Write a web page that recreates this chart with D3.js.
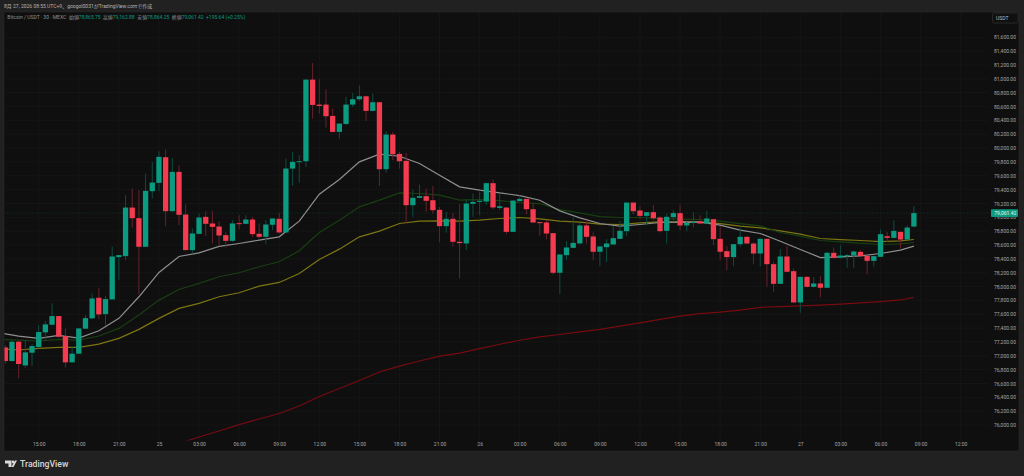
<!DOCTYPE html>
<html>
<head>
<meta charset="utf-8">
<style>
  html, body { margin: 0; padding: 0; background: #212121; overflow: hidden; }
  text { font-family: Roboto, "Noto Sans CJK JP", sans-serif; }
</style>
</head>
<body>
<div id="chart-area"></div>
<script src="https://cdn.jsdelivr.net/npm/d3@7/dist/d3.min.js"></script>
<script>
// 30 minute candles, left to right
const opens = [
  77121,76924,77203,76861,77044,77126,77338,77448,77573,77285,
  76905,77030,77391,77540,77838,77602,77814,78425,78439,79141,
  78987,78574,79377,79497,79868,79088,79656,79040,78526,78761,
  79007,78911,78867,78742,78660,78915,78906,78968,78762,78718,
  78892,78978,78781,79704,79801,79810,80989,80628,80628,80464,
  80234,80349,80628,80705,80748,80537,80662,79695,80195,79916,
  79815,79175,79281,79305,79247,79108,78872,78978,78646,78622,
  79195,79223,79228,79493,79135,79141,78790,79233,79266,79117,
  78930,78925,78771,78199,78453,78559,78622,78882,78723,78502,
  78569,78607,78689,78800,79213,79098,79021,79074,78997,78805,
  79002,79060,78882,78925,78939,78910,78973,78689,78511,78425,
  78612,78718,78621,78477,78689,78323,78039,78434,78222,77770,
  78140,77996,78044,77982,78487,78419,78443,78448,78501,78443,
  78371,78429,78727,78703,78790,78679,78866
];
const highs = [
  77155,77227,77213,77213,77169,77443,77501,77756,77573,77395,
  77131,77395,77588,77900,77982,77867,78574,78454,79319,79416,
  79392,79632,79800,79954,79983,79858,79752,79185,78838,79055,
  79088,79093,78944,78785,78959,79031,79031,79007,78911,78959,
  78983,79065,79849,79945,79897,80989,81229,80994,80849,80570,
  80354,80739,80796,80907,80758,80787,80666,80243,80234,79945,
  79930,79401,79474,79416,79450,79151,79079,79065,79190,79262,
  79344,79368,79502,79546,79344,79141,79242,79319,79266,79213,
  78930,78958,78771,78463,78655,78997,78920,78958,78781,78583,
  78684,78872,78944,79213,79213,79161,79074,79175,79021,79055,
  79103,79185,78934,79069,79031,79093,78973,78872,78583,78612,
  78853,78728,78640,78700,78689,78357,78540,78583,78261,78140,
  78150,78140,78150,78501,78564,78597,78467,78516,78525,78448,
  78448,78823,78790,78958,78790,78886,79163
];
const lows = [
  76890,76914,76674,76828,76852,77107,77227,77439,77265,76833,
  76900,77025,77391,77535,77530,77434,77814,78093,78381,78853,
  77886,78574,79271,79377,78872,79088,78886,78526,78478,78757,
  78728,78622,78593,78564,78646,78824,78901,78718,78694,78613,
  78815,78767,78776,79454,79498,79728,80426,80498,80296,80224,
  80137,80330,80594,80681,80392,80532,79454,79642,79825,79704,
  78911,79007,79281,79079,79055,78641,78776,78574,78117,78526,
  79007,79031,79175,79113,79105,78756,78785,79233,79045,78920,
  78732,78680,78174,77891,78381,78554,78612,78622,78381,78295,
  78352,78603,78689,78732,79045,78973,78886,78958,78781,78622,
  78934,78814,78800,78853,78910,78901,78598,78381,78237,78295,
  78574,78612,78323,78294,77996,77924,78039,78213,77770,77621,
  77986,77986,77842,77982,78405,78405,78270,78270,78429,78179,
  78285,78429,78645,78694,78549,78679,78864
];
const closes = [
  76924,77203,76881,77049,77140,77342,77453,77573,77275,76905,
  77030,77395,77544,77828,77597,77819,78434,78454,79141,78987,
  78574,79382,79502,79873,79088,79656,79036,78526,78766,78997,
  78906,78862,78737,78660,78911,78906,78968,78757,78718,78896,
  78983,78781,79704,79801,79810,80989,80623,80609,80460,80234,
  80354,80628,80705,80748,80537,80662,79695,80195,79911,79810,
  79175,79281,79305,79238,79103,78872,78978,78646,78627,79199,
  79223,79238,79493,79142,79160,78790,79242,79266,79117,78925,
  78920,78766,78199,78463,78564,78631,78882,78718,78502,78579,
  78622,78699,78805,79213,79088,79021,79074,78987,78800,79007,
  79060,78882,78920,78934,78910,78983,78684,78502,78425,78612,
  78718,78622,78477,78689,78323,78039,78434,78213,77770,78140,
  77996,78044,77982,78487,78415,78448,78453,78506,78439,78371,
  78439,78756,78703,78804,78679,78852,79061
];

// moving averages, read at these candle positions
const maSteps = [
  -1,2,5,8,11,14,17,20,23,26,29,32,35,38,41,44,
  47,50,53,56,59,62,65,68,71,74,77,80,83,86,89,92,
  95,98,101,104,107,110,113,116,119,122,125,128,131,134,136
];
const maWhite = [
  77333,77285,77251,77294,77256,77362,77540,77852,78203,78434,78487,78579,78622,78670,78718,78944,
  79334,79546,79801,79911,79882,79777,79608,79440,79392,79353,79314,79247,79093,78992,78910,78872,
  78896,78925,78934,78930,78886,78814,78766,78655,78535,78419,78429,78443,78477,78525,78583
];
const maGreen = [
  77237,77227,77213,77237,77227,77285,77395,77588,77804,77958,78045,78141,78199,78286,78358,78516,
  78781,78959,79151,79248,79353,79344,79320,79248,79255,79240,79210,79199,79112,79064,79011,78997,
  78997,78983,78973,78968,78944,78910,78876,78780,78727,78665,78645,78626,78607,78617,78636
];
const maOlive = [
  77100,77083,77107,77121,77121,77169,77251,77381,77540,77684,77756,77852,77910,78006,78059,78189,
  78391,78540,78718,78800,78911,78944,78949,78944,78959,78983,78997,78978,78944,78930,78901,78896,
  78920,78934,78930,78934,78910,78872,78847,78804,78756,78694,78679,78665,78650,78660,78679
];
const maRed = [
  null,null,null,null,null,null,null,null,null,75733,75827,75913,76006,76087,76166,76274,
  76411,76527,76642,76765,76851,76924,76996,77039,77104,77166,77224,77273,77307,77345,77380,77429,
  77475,77525,77573,77609,77630,77659,77700,77710,77720,77731,77746,77763,77782,77806,77843
];

// Axes
const priceTicks = d3.range(76000, 81601, 200);
const timeSteps = d3.range(5, 144, 6);
const timeLabels = [
  "15:00","18:00","21:00","25","03:00","06:00","09:00","12:00",
  "15:00","18:00","21:00","26","03:00","06:00","09:00","12:00",
  "15:00","18:00","21:00","27","03:00","06:00","09:00","12:00"
];
const lastPrice = 79061.42;

// Header and legend
const headerText = "8月 27, 2026 08:55 UTC+9、googol0031がTradingView.comで作成";
const symbolText = "Bitcoin / USDT · 30 · MEXC";
const legendLabels = ["始値", "高値", "安値", "終値"];
const legendValues = ["78,865.75", "79,162.88", "78,864.25", "79,061.42"];
const changeText = "+195.64 (+0.25%)";

const UP = "#0b9b81";
const DOWN = "#f53b50";
const UP_WICK = "#0c4d41";
const DOWN_WICK = "#66222c";

const svg = d3.select("#chart-area")
  .append("svg")
    .attr("width", 1024)
    .attr("height", 476)
    .style("display", "block");

// Panel
svg.append("rect")
  .attr("x", 4).attr("y", 12)
  .attr("width", 1015).attr("height", 439)
  .attr("fill", "#0f0f0f")
  .attr("stroke", "#2a2a2a")
  .attr("stroke-width", 0.6);

// Scales
const x = d3.scaleLinear().domain([0, 136]).range([5.3, 913.9]);
const y = d3.scaleLinear().domain([76000, 81600]).range([425, 37.3]);

svg.append("clipPath").attr("id", "plot")
  .append("rect")
    .attr("x", 4.5).attr("y", 12.5)
    .attr("width", 984).attr("height", 428);

// Grid
const grid = svg.append("g").attr("stroke", "#191919").attr("stroke-width", 0.7);
grid.selectAll(".h").data(priceTicks).enter().append("line")
  .attr("x1", 4.5).attr("x2", 988)
  .attr("y1", d => y(d)).attr("y2", d => y(d));
grid.selectAll(".v").data(timeSteps).enter().append("line")
  .attr("x1", d => x(d)).attr("x2", d => x(d))
  .attr("y1", 12.5).attr("y2", 441);

const plot = svg.append("g").attr("clip-path", "url(#plot)");

// Moving averages sit under the candles
const maLine = d3.line()
  .defined(d => d[1] !== null)
  .x(d => x(d[0]))
  .y(d => y(d[1]));

[
  [maRed, "#760b11"],
  [maOlive, "#7c7512"],
  [maGreen, "#183f11"],
  [maWhite, "#8f8f8f"]
].forEach(([values, color]) => {
  plot.append("path")
    .attr("d", maLine(values.map((v, i) => [maSteps[i], v])))
    .attr("fill", "none")
    .attr("stroke", color)
    .attr("stroke-width", 1.2);
});

// Last price line
plot.append("line")
  .attr("x1", 4.5).attr("x2", 988)
  .attr("y1", y(lastPrice)).attr("y2", y(lastPrice))
  .attr("stroke", "#0b4a3e")
  .attr("stroke-width", 0.6)
  .attr("stroke-dasharray", "1,1.5");

// Candles
const candles = plot.selectAll(".candle").data(opens).enter().append("g");

candles.append("line")
  .attr("x1", (d, i) => x(i)).attr("x2", (d, i) => x(i))
  .attr("y1", (d, i) => y(highs[i]))
  .attr("y2", (d, i) => y(lows[i]))
  .attr("stroke", (d, i) => closes[i] >= d ? UP_WICK : DOWN_WICK)
  .attr("stroke-width", 1);

candles.append("rect")
  .attr("x", (d, i) => x(i) - 2.65)
  .attr("width", 5.3)
  .attr("y", (d, i) => y(Math.max(d, closes[i])))
  .attr("height", (d, i) => Math.max(1, Math.abs(y(d) - y(closes[i]))))
  .attr("fill", (d, i) => closes[i] >= d ? UP : DOWN);

// Price axis
const yAxis = svg.append("g")
  .attr("transform", "translate(994,0)")
  .call(d3.axisRight(y).tickValues(priceTicks).tickSize(0).tickPadding(0)
    .tickFormat(d3.format(",.2f")));
yAxis.select(".domain").remove();
yAxis.selectAll("text").attr("fill", "#a6a6a6").attr("font-size", 5);

// Time axis
const xAxis = svg.append("g")
  .attr("transform", "translate(0,442.5)")
  .call(d3.axisBottom(x).tickValues(timeSteps).tickSize(0).tickPadding(0)
    .tickFormat((d, i) => timeLabels[i]));
xAxis.select(".domain").remove();
xAxis.selectAll("text").attr("fill", "#a6a6a6").attr("font-size", 5);

// USDT box
svg.append("rect")
  .attr("x", 992.5).attr("y", 13)
  .attr("width", 25.5).attr("height", 10).attr("rx", 1.5)
  .attr("fill", "#101010")
  .attr("stroke", "#333333")
  .attr("stroke-width", 0.7);
svg.append("text")
  .attr("x", 996).attr("y", 19.8)
  .attr("font-size", 5).attr("fill", "#bbbbbb")
  .text("USDT");

// Last price tag
svg.append("rect")
  .attr("x", 991).attr("y", y(lastPrice) - 3.9)
  .attr("width", 27).attr("height", 7.8).attr("rx", 0.8)
  .attr("fill", UP);
svg.append("text")
  .attr("x", 994.3).attr("y", y(lastPrice) + 1.8)
  .attr("font-size", 5).attr("fill", "#e8f5f2")
  .text(d3.format(",.2f")(lastPrice));

// Header
svg.append("text")
  .attr("x", 4).attr("y", 8)
  .attr("font-size", 5).attr("fill", "#b4b4b4")
  .text(headerText);

// Legend
svg.append("text")
  .attr("x", 7.3).attr("y", 19)
  .attr("font-size", 5).attr("fill", "#8f8f8f")
  .text(symbolText);

const labelX = [69, 102.7, 137.3, 171.7];
const valueX = [78.7, 112.7, 147.3, 181.7];
legendLabels.forEach((label, i) => {
  svg.append("text")
    .attr("x", labelX[i]).attr("y", 19)
    .attr("font-size", 5).attr("fill", "#8f8f8f")
    .text(label);
  svg.append("text")
    .attr("x", valueX[i]).attr("y", 19)
    .attr("font-size", 5).attr("fill", UP)
    .text(legendValues[i]);
});
svg.append("text")
  .attr("x", 206).attr("y", 19)
  .attr("font-size", 5).attr("fill", UP)
  .text(changeText);

// TradingView mark
const logo = svg.append("g").attr("fill", "#d8d8d8");
logo.append("path").attr("d", "M5 460.5h6.5v6.5h-3v-3.5h-3.5z");
logo.append("circle").attr("cx", 13).attr("cy", 462).attr("r", 1.4);
logo.append("path").attr("d", "M15 460.5h2L13.5 467h-2.2z");
svg.append("text")
  .attr("x", 20).attr("y", 467)
  .attr("font-size", 8.7).attr("font-weight", 500)
  .attr("fill", "#d8d8d8")
  .text("TradingView");
</script>
</body>
</html>
